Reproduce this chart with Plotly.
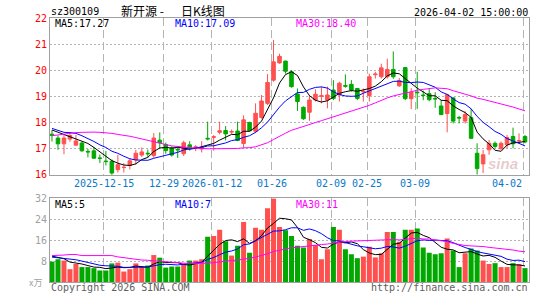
import numpy as np
import pandas as pd
import plotly.graph_objects as go

# ---------------- data ----------------
holidays = ["2026-01-01", "2026-01-02", "2026-02-16", "2026-02-17", "2026-02-18",
            "2026-02-19", "2026-02-20", "2026-02-23"]
dates = [d.strftime("%Y-%m-%d") for d in pd.bdate_range("2025-12-02", "2026-04-02")
         if d.strftime("%Y-%m-%d") not in holidays]

opens = [17.55, 17.40, 17.18, 17.36, 17.13, 17.21, 16.89, 16.91, 16.64, 16.52,
         16.51, 16.19, 16.27, 16.35, 16.57, 16.75, 16.82, 16.73, 17.32, 17.15,
         17.02, 16.97, 16.80, 17.14, 17.04, 16.98, 17.39, 17.43, 17.62, 17.69,
         17.63, 17.67, 17.19, 18.00, 17.66, 18.19, 18.73, 19.62, 20.28, 20.35,
         19.94, 19.09, 18.58, 18.39, 18.86, 19.00, 18.86, 19.24, 19.05, 19.41,
         19.46, 19.30, 19.17, 19.03, 19.83, 19.75, 19.75, 20.03, 19.40, 20.10,
         18.91, 19.16, 19.05, 19.10, 18.92, 18.63, 18.34, 18.94, 18.19, 18.05,
         18.18, 16.82, 16.41, 16.95, 17.20, 16.99, 17.14, 17.46, 17.29, 17.46]
highs = [17.71, 17.50, 17.52, 17.56, 17.52, 17.26, 16.98, 17.06, 16.77, 16.91,
         16.58, 16.76, 16.44, 16.62, 16.95, 17.04, 16.96, 17.59, 17.62, 17.23,
         17.08, 17.09, 17.30, 17.28, 17.13, 17.28, 18.03, 17.51, 18.03, 17.86,
         17.73, 18.03, 18.27, 18.02, 18.73, 19.05, 19.85, 21.16, 20.63, 20.36,
         20.00, 19.30, 18.61, 19.05, 19.27, 19.37, 19.37, 19.62, 19.56, 19.84,
         19.62, 19.32, 19.30, 19.87, 19.94, 20.25, 20.44, 20.72, 19.70, 20.12,
         19.31, 19.94, 19.22, 19.29, 19.16, 18.85, 19.10, 18.97, 18.25, 18.43,
         18.53, 17.20, 16.95, 17.33, 17.27, 17.27, 17.52, 17.80, 17.58, 17.52]
lows = [17.27, 16.95, 16.78, 17.26, 17.11, 16.88, 16.66, 16.60, 16.44, 16.35,
        15.98, 16.08, 16.08, 16.20, 16.38, 16.68, 16.66, 16.65, 16.98, 16.80,
        16.69, 16.64, 16.71, 16.92, 16.90, 16.85, 17.31, 16.92, 17.54, 17.31,
        17.56, 17.28, 17.03, 17.66, 17.59, 18.14, 18.67, 19.56, 20.25, 19.87,
        19.33, 18.44, 18.10, 18.06, 18.80, 18.73, 18.54, 18.86, 18.80, 19.33,
        19.18, 18.86, 18.80, 18.80, 19.68, 19.68, 19.68, 19.67, 19.36, 18.85,
        18.51, 18.52, 18.85, 18.81, 18.56, 18.28, 17.62, 17.96, 17.96, 17.96,
        17.39, 16.00, 16.06, 16.76, 17.01, 16.95, 17.01, 17.01, 17.20, 17.20]
closes = [17.50, 17.18, 17.40, 17.50, 17.29, 16.91, 16.87, 16.63, 16.62, 16.50,
          16.06, 16.38, 16.28, 16.53, 16.82, 16.87, 16.80, 17.40, 17.22, 16.92,
          16.75, 16.95, 17.22, 17.05, 17.06, 17.05, 17.37, 17.45, 17.68, 17.56,
          17.65, 17.31, 18.10, 17.68, 18.35, 18.82, 19.53, 20.32, 20.53, 19.96,
          19.37, 18.80, 18.14, 18.86, 19.08, 19.02, 19.05, 18.92, 19.50, 19.39,
          19.24, 18.92, 19.19, 19.75, 19.85, 20.09, 20.03, 19.75, 19.60, 18.91,
          19.16, 19.14, 19.03, 18.87, 18.90, 18.30, 19.06, 18.05, 18.17, 18.30,
          17.39, 16.23, 16.76, 17.20, 17.08, 17.20, 17.42, 17.18, 17.30, 17.25]
volumes = [7.8, 8.7, 8.2, 4.9, 6.9, 5.7, 5.7, 5.3, 4.4, 4.4,
           7.1, 7.4, 4.0, 4.9, 7.1, 5.9, 6.3, 10.3, 9.3, 5.5,
           5.9, 5.9, 6.9, 8.2, 8.2, 8.7, 17.3, 17.6, 20.0, 15.6,
           10.1, 13.9, 22.9, 11.2, 20.7, 20.0, 28.2, 31.9, 21.0, 19.8,
           17.6, 13.9, 13.2, 16.4, 14.1, 8.7, 12.5, 21.0, 20.0, 12.5,
           10.6, 9.1, 9.7, 13.5, 9.4, 11.0, 19.1, 19.1, 15.4, 20.0,
           20.0, 20.4, 13.2, 11.2, 10.6, 11.0, 16.6, 12.0, 5.7, 11.0,
           12.8, 12.0, 8.2, 6.9, 7.2, 5.7, 5.7, 7.2, 6.8, 5.3]

# moving-average values at the start of the window (read from the picture,
# they depend on sessions before the first visible candle)
ma5_head = [17.71, 17.62, 17.54, 17.46]
ma10_head = [17.77, 17.68, 17.62, 17.61, 17.58, 17.49, 17.39, 17.27, 17.14]
ma30_head = [17.49, 17.52, 17.56, 17.59, 17.61, 17.62, 17.63, 17.63, 17.62, 17.61,
             17.58, 17.54, 17.51, 17.47, 17.42, 17.37, 17.31, 17.26, 17.20, 17.15,
             17.10, 17.08, 17.05, 17.03, 17.02, 17.00, 16.99, 16.99, 16.99]
vma5_head = [9.9, 9.5, 8.9, 7.6]
vma10_head = [9.5, 9.3, 9.0, 8.7, 8.5, 8.0, 7.5, 7.0, 6.4]
vma30_head = [10.1, 10.1, 10.3, 10.5, 10.5, 10.1, 10.1, 10.1, 10.1, 10.1,
              10.1, 9.6, 9.3, 9.0, 8.6, 8.4, 8.3, 8.1, 7.9, 7.6,
              7.4, 7.3, 7.2, 7.1, 7.1, 7.1, 7.2, 7.4, 7.7]

tick_dates = ["2025-12-15", "2025-12-29", "2026-01-12", "2026-01-26",
              "2026-02-09", "2026-02-25", "2026-03-09", "2026-04-02"]
tick_labels = ["2025-12-15", "12-29", "2026-01-12", "01-26",
               "02-09", "02-25", "03-09", "04-02"]

price_ticks = [16, 17, 18, 19, 20, 21, 22]
vol_ticks = [8, 16, 24, 32]

stock_code = "sz300109"
title_left = "新开源 -"
title_right = "日K线图"
stamp = "2026-04-02 15:00:00"
ma_price_labels = ["MA5:17.27", "MA10:17.09", "MA30:18.40"]
ma_vol_labels = ["MA5:5", "MA10:7", "MA30:11"]

# ---------------- helpers ----------------
W, H = 545, 300
ML, MR, MT, MB = 50, 16, 18, 14
PW, PH = W - ML - MR, H - MT - MB


def px_x(px):
    return (px - ML) / PW


def px_y(py):
    return (H - MB - py) / PH


def moving(vals, n, head):
    out = list(head)
    for i in range(n - 1, len(vals)):
        out.append(float(np.mean(vals[i - n + 1:i + 1])))
    return out


idx = list(range(len(dates)))
RED = "#ff5050"
GREEN = "#00a800"
MA_COLORS = ["#000000", "#0000ff", "#ff00ff"]

ma_p = [moving(closes, 5, ma5_head), moving(closes, 10, ma10_head), moving(closes, 30, ma30_head)]
ma_v = [moving(volumes, 5, vma5_head), moving(volumes, 10, vma10_head), moving(volumes, 30, vma30_head)]

vol_colors = [RED if c >= o else GREEN for o, c in zip(opens, closes)]

fig = go.Figure()
fig.add_trace(go.Candlestick(
    x=idx, open=opens, high=highs, low=lows, close=closes,
    increasing=dict(line=dict(color=RED, width=1), fillcolor=RED),
    decreasing=dict(line=dict(color=GREEN, width=1), fillcolor=GREEN),
    whiskerwidth=0, xaxis="x", yaxis="y", showlegend=False, hoverinfo="skip"))
for vals, col in zip(ma_p, MA_COLORS):
    fig.add_trace(go.Scatter(x=idx, y=vals, mode="lines", line=dict(color=col, width=1),
                             xaxis="x", yaxis="y", showlegend=False, hoverinfo="skip"))

fig.add_trace(go.Bar(x=idx, y=volumes, marker=dict(color=vol_colors, line=dict(width=0)),
                     width=0.84, xaxis="x2", yaxis="y2", showlegend=False, hoverinfo="skip"))
for vals, col in zip(ma_v, MA_COLORS):
    fig.add_trace(go.Scatter(x=idx, y=vals, mode="lines", line=dict(color=col, width=1),
                             xaxis="x2", yaxis="y2", showlegend=False, hoverinfo="skip"))

grid_x = [dates.index(d) - 0.33 for d in tick_dates]
xr = [-0.333, len(dates) - 0.333]
FRAME = "#a0a0a0"
GRID = "#b4b4b4"

xcommon = dict(range=xr, showticklabels=False, ticks="", tickvals=grid_x,
               showgrid=True, gridcolor=GRID, griddash="8px,4px", gridwidth=1,
               showline=True, mirror=True, linecolor=FRAME, linewidth=1, zeroline=False)

fig.update_layout(
    width=W, height=H, margin=dict(l=ML, r=MR, t=MT, b=MB),
    paper_bgcolor="white", plot_bgcolor="white",
    boxgap=0.15, bargap=0.15,
    xaxis=dict(domain=[0, 1], anchor="y", rangeslider=dict(visible=False), **xcommon),
    xaxis2=dict(domain=[0, 1], anchor="y2", matches="x", **xcommon),
    yaxis=dict(domain=[px_y(177), 1], range=[16, 22], tickvals=price_ticks,
               tickfont=dict(family="DejaVu Sans Mono", size=10, color="#ff0000"),
               ticks="", showgrid=True, gridcolor=GRID, griddash="2px,2px",
               showline=True, mirror=True, linecolor=FRAME, zeroline=False),
    yaxis2=dict(domain=[0, px_y(201)], range=[0, 32], tickvals=vol_ticks,
                tickfont=dict(family="DejaVu Sans Mono", size=10, color="#a0a0a0"),
                ticks="", showgrid=True, gridcolor=GRID, griddash="2px,2px",
                showline=True, mirror=True, linecolor=FRAME, zeroline=False),
)

MONO = "DejaVu Sans Mono"
ann = []


def text(s, x, y, color="#000000", anchor="left", size=10, family=MONO, xref="paper"):
    ann.append(dict(text=s, x=x, y=y, xref=xref, yref="paper", showarrow=False,
                    xanchor=anchor, yanchor="middle",
                    font=dict(family=family, size=size, color=color)))


text(stock_code, px_x(49), px_y(11))
text(title_left, px_x(119), px_y(10.5), size=12, family="Noto Sans CJK SC")
text(title_right, px_x(179), px_y(10.5), size=12, family="Noto Sans CJK SC")
text(stamp, px_x(530), px_y(12), anchor="right")
for s, xp, col in zip(ma_price_labels, [53, 173, 294], MA_COLORS):
    text(s, px_x(xp), px_y(24), color=col)
for s, xp, col in zip(ma_vol_labels, [53, 173, 294], MA_COLORS):
    text(s, px_x(xp), px_y(207), color=col)

for d, lab in zip(tick_dates, tick_labels):
    i = dates.index(d)
    if i == len(dates) - 1:
        ann.append(dict(text=lab, x=px_x(524), y=px_y(186), xref="paper", yref="paper",
                        showarrow=False, xanchor="right", yanchor="middle",
                        font=dict(family=MONO, size=10, color="#0a78c8")))
    else:
        ann.append(dict(text=lab, x=i - 0.33, y=px_y(186), xref="x", yref="paper",
                        showarrow=False, xanchor="center", yanchor="middle",
                        font=dict(family=MONO, size=10, color="#0a78c8")))

text("x万", px_x(44), px_y(287), color="#a0a0a0", anchor="right", size=9,
     family="Noto Sans CJK SC")
text("Copyright 2026 SINA.COM", px_x(49), px_y(292), color="#606060")
text("http://finance.sina.com.cn", px_x(530), px_y(292), color="#606060", anchor="right")
text("<b><i>sina</i></b>", px_x(520), px_y(166), color="rgba(200,140,140,0.45)",
     anchor="right", size=15, family="Arial")

fig.update_layout(annotations=ann)
fig.write_html("out.html")
